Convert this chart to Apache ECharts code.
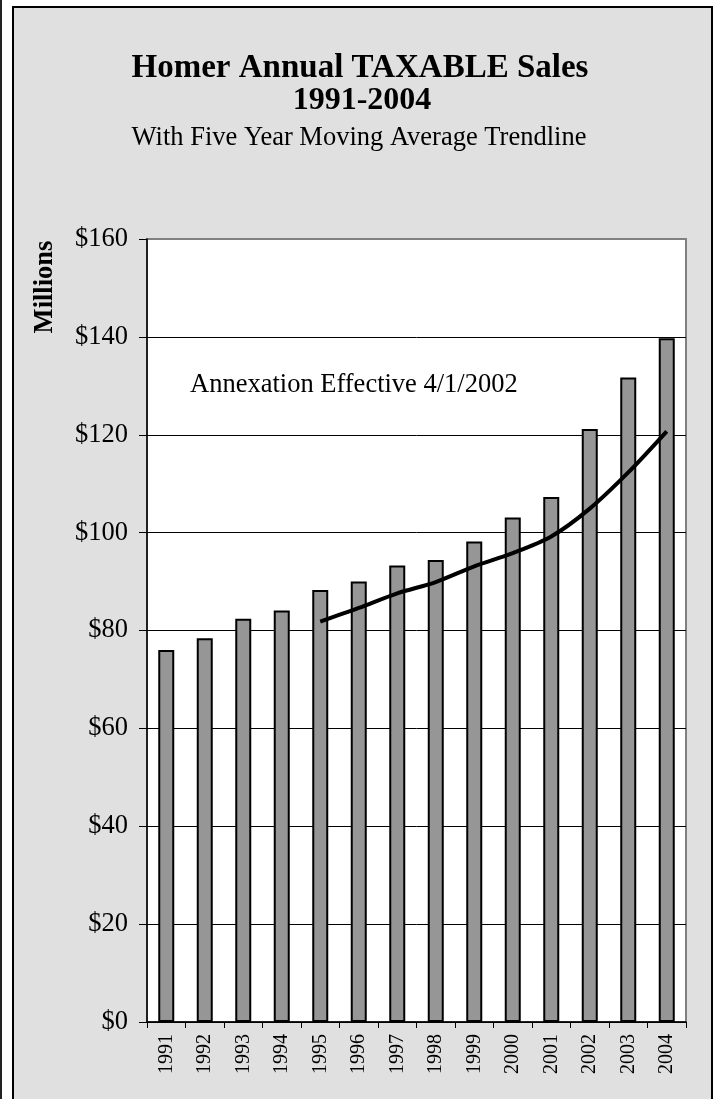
<!DOCTYPE html>
<html>
<head>
<meta charset="utf-8">
<style>
html,body{margin:0;padding:0;background:#fff;}
#c{width:719px;height:1099px;}
</style>
<script src="https://cdn.jsdelivr.net/npm/echarts@6/dist/echarts.min.js"></script>
</head>
<body>
<div id="c"></div>
<script>
var years = ['1991','1992','1993','1994','1995','1996','1997','1998','1999','2000','2001','2002','2003','2004'];
var sales = [76.0, 78.4, 82.4, 84.1, 88.3, 90.0, 93.3, 94.4, 98.2, 103.1, 107.3, 121.2, 131.7, 139.7];
var movingAvg = ['-', '-', '-', '-', 81.8, 84.6, 87.6, 89.9, 93.1, 95.8, 99.2, 104.9, 112.3, 120.7];
var yTicks = [0, 20, 40, 60, 80, 100, 120, 140, 160];

var serif = '"Liberation Serif", "Times New Roman", serif';
var chart = echarts.init(document.getElementById('c'), null, {renderer: 'canvas'});
var gridColors = yTicks.map(function (v, i) { return i === yTicks.length - 1 ? '#808080' : '#000'; });

function txt(s, x, y, font, align, rot) {
  return {type: 'text', z: 10, x: x, y: y, rotation: rot || 0,
          style: {text: s, font: font, fill: '#000', align: align || 'center', verticalAlign: 'middle'}};
}

chart.setOption({
  backgroundColor: '#fff',
  animation: false,
  graphic: [
    {type: 'rect', z: -10, shape: {x: 0, y: 0, width: 2, height: 1099}, style: {fill: '#222'}},
    {type: 'rect', z: -10, shape: {x: 13, y: 7, width: 699, height: 1100},
     style: {fill: '#e0e0e0', stroke: '#000', lineWidth: 2}},
    txt('Homer Annual TAXABLE Sales', 360, 68, 'bold 33px ' + serif),
    txt('1991-2004', 362, 101, 'bold 32px ' + serif),
    txt('With Five Year Moving Average Trendline', 359, 138, '26.5px ' + serif),
    txt('Millions', 45, 287, 'bold 26.5px ' + serif, 'center', Math.PI / 2),
    txt('Annexation Effective 4/1/2002', 190, 385, '26.5px ' + serif, 'left')
  ],
  grid: {left: 147, right: 33, top: 239, bottom: 77, show: true, backgroundColor: '#fff',
         borderColor: '#808080', borderWidth: 2},
  xAxis: {
    type: 'category', data: years, boundaryGap: true,
    axisLine: {lineStyle: {color: '#000', width: 1.5}},
    axisTick: {show: true, length: 6, alignWithLabel: false, lineStyle: {color: '#000'}},
    axisLabel: {rotate: 90, margin: 12, fontFamily: serif, fontSize: 20, color: '#000', interval: 0},
    splitLine: {show: false}
  },
  yAxis: {
    type: 'value', min: 0, max: 160, interval: 20,
    axisLine: {show: true, lineStyle: {color: '#000', width: 1.5}},
    axisTick: {show: true, length: 8, lineStyle: {color: '#000'}},
    axisLabel: {margin: 19, fontFamily: serif, fontSize: 26.5, color: '#000',
                formatter: function (v) { return '$' + v; }},
    splitLine: {show: true, lineStyle: {color: gridColors, width: 1}}
  },
  series: [
    {type: 'bar', data: sales, barWidth: 16,
     itemStyle: {color: '#969696', borderColor: '#000', borderWidth: 2}},
    {type: 'line', data: movingAvg, smooth: 0.3, showSymbol: false, symbol: 'none',
     lineStyle: {color: '#000', width: 4}, z: 5}
  ]
});
</script>
</body>
</html>
